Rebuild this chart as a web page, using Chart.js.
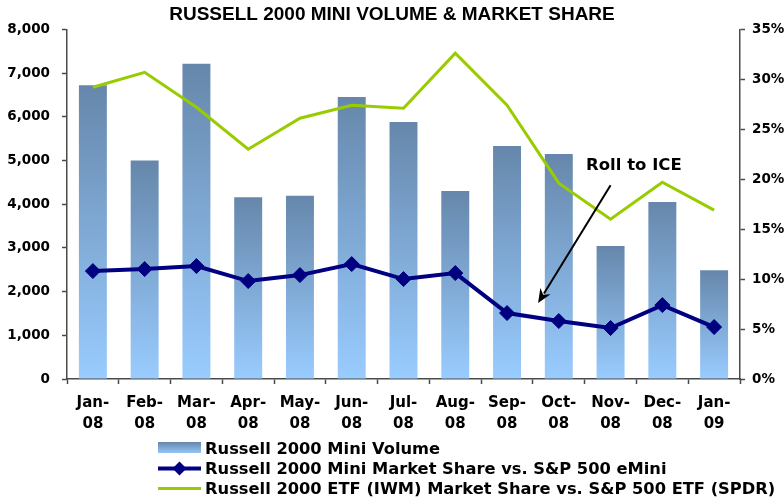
<!DOCTYPE html>
<html>
<head>
<meta charset="utf-8">
<script src="https://cdn.jsdelivr.net/npm/chart.js@4.4.1/dist/chart.umd.min.js"></script>
<style>
  html, body { margin: 0; padding: 0; background: #fff; }
  #wrap { width: 784px; height: 501px; position: relative; }
</style>
</head>
<body>
<div id="wrap"><canvas id="chart"></canvas></div>
<script>
// values
const months = ['Jan-08', 'Feb-08', 'Mar-08', 'Apr-08', 'May-08', 'Jun-08', 'Jul-08',
                'Aug-08', 'Sep-08', 'Oct-08', 'Nov-08', 'Dec-08', 'Jan-09'];
const miniVolume = [6720, 5000, 7210, 4160, 4190, 6450, 5880, 4300, 5330, 5150, 3040, 4050, 2490];
const miniShare = [10.8, 11.0, 11.3, 9.8, 10.4, 11.5, 10.0, 10.6, 6.6, 5.8, 5.1, 7.4, 5.2];
const etfShare = [29.2, 30.7, 27.2, 23.0, 26.1, 27.4, 27.1, 32.6, 27.4, 19.6, 16.0, 19.7, 16.9];

const volumeTicks = [0, 1000, 2000, 3000, 4000, 5000, 6000, 7000, 8000];
const shareTicks = [0, 5, 10, 15, 20, 25, 30, 35];

const seriesNames = [
    'Russell 2000 Mini Volume',
    'Russell 2000 Mini Market Share vs. S&P 500 eMini',
    'Russell 2000 ETF (IWM) Market Share vs. S&P 500 ETF (SPDR)'
];

// "Roll to ICE" callout, in category index / right-axis % units
const callout = { text: 'Roll to ICE', textAt: [10.45, 21.3], from: [10, 19.4], to: [8.6, 7.6] };

const NAVY = '#000080';
const GREEN = '#99cc00';
const BAR_TOP = '#6687ab';
const BAR_BOTTOM = '#99ccff';
const AXIS = '#4a4a4a';
const tickFont = { family: 'DejaVu Sans', weight: 'bold', size: 13.5 };

function barFill(ctx) {
    const chart = ctx.chart;
    if (!chart.chartArea || ctx.type !== 'data') return '#7fa8d4';
    const y = chart.scales.y;
    const top = y.getPixelForValue(ctx.raw);
    const bottom = y.getPixelForValue(0);
    const g = chart.ctx.createLinearGradient(0, top, 0, bottom);
    g.addColorStop(0, BAR_TOP);
    g.addColorStop(1, BAR_BOTTOM);
    return g;
}

const calloutPlugin = {
    id: 'callout',
    afterDatasetsDraw(chart) {
        const c = chart.ctx;
        const xs = chart.scales.x, ys = chart.scales.y2;
        const px = p => [xs.getPixelForValue(p[0]), ys.getPixelForValue(p[1])];
        const [x1, y1] = px(callout.from);
        const [x2, y2] = px(callout.to);
        const ang = Math.atan2(y2 - y1, x2 - x1);
        const headLen = 14, headW = 6;
        c.save();
        c.strokeStyle = '#000';
        c.fillStyle = '#000';
        c.lineWidth = 2;
        c.beginPath();
        c.moveTo(x1, y1);
        c.lineTo(x2 - Math.cos(ang) * headLen * 0.8, y2 - Math.sin(ang) * headLen * 0.8);
        c.stroke();
        c.beginPath();
        c.moveTo(x2, y2);
        c.lineTo(x2 - Math.cos(ang) * headLen - Math.sin(ang) * headW,
                 y2 - Math.sin(ang) * headLen + Math.cos(ang) * headW);
        c.lineTo(x2 - Math.cos(ang) * headLen * 0.7, y2 - Math.sin(ang) * headLen * 0.7);
        c.lineTo(x2 - Math.cos(ang) * headLen + Math.sin(ang) * headW,
                 y2 - Math.sin(ang) * headLen - Math.cos(ang) * headW);
        c.closePath();
        c.fill();
        const [tx, ty] = px(callout.textAt);
        c.font = 'bold 16.5px "DejaVu Sans"';
        c.textAlign = 'center';
        c.textBaseline = 'middle';
        c.fillText(callout.text, tx, ty);
        c.restore();
    }
};

// legend stacked on the left, one row per series
const legendPlugin = {
    id: 'stackLegend',
    afterDraw(chart) {
        const c = chart.ctx;
        const x0 = 158, sw = 43, textX = 205;
        const base = chart.height;
        const rows = [base - 53, base - 32.5, base - 12.5];
        c.save();
        // volume swatch
        let y = rows[0];
        const g = c.createLinearGradient(0, y - 6, 0, y + 6);
        g.addColorStop(0, BAR_TOP);
        g.addColorStop(1, BAR_BOTTOM);
        c.fillStyle = g;
        c.fillRect(x0, y - 6, sw, 11);
        // mini share line + diamond
        y = rows[1];
        c.strokeStyle = NAVY;
        c.lineWidth = 4;
        c.beginPath();
        c.moveTo(x0, y);
        c.lineTo(x0 + sw, y);
        c.stroke();
        c.fillStyle = NAVY;
        c.beginPath();
        const cx = x0 + sw / 2, r = 7;
        c.moveTo(cx, y - r);
        c.lineTo(cx + r, y);
        c.lineTo(cx, y + r);
        c.lineTo(cx - r, y);
        c.closePath();
        c.fill();
        // etf share line
        y = rows[2];
        c.strokeStyle = GREEN;
        c.lineWidth = 3;
        c.beginPath();
        c.moveTo(x0, y);
        c.lineTo(x0 + sw, y);
        c.stroke();
        // texts
        c.fillStyle = '#000';
        c.font = 'bold 16.3px "DejaVu Sans"';
        c.textAlign = 'left';
        c.textBaseline = 'alphabetic';
        seriesNames.forEach((name, i) => c.fillText(name, textX, rows[i] + 5.5));
        c.restore();
    }
};

const chart = new Chart(document.getElementById('chart'), {
    data: {
        labels: months,
        datasets: [
            {
                type: 'line',
                label: seriesNames[1],
                data: miniShare,
                yAxisID: 'y2',
                borderColor: NAVY,
                borderWidth: 4,
                pointStyle: 'rectRot',
                pointRadius: 7.5,
                pointBackgroundColor: NAVY,
                pointBorderColor: NAVY,
                pointBorderWidth: 1,
                tension: 0,
                order: 1
            },
            {
                type: 'line',
                label: seriesNames[2],
                data: etfShare,
                yAxisID: 'y2',
                borderColor: GREEN,
                borderWidth: 3,
                pointRadius: 0,
                tension: 0,
                order: 2
            },
            {
                type: 'bar',
                label: seriesNames[0],
                data: miniVolume,
                yAxisID: 'y',
                backgroundColor: barFill,
                borderWidth: 0,
                categoryPercentage: 1,
                barPercentage: 0.54,
                order: 3
            }
        ]
    },
    options: {
        responsive: true,
        maintainAspectRatio: false,
        animation: false,
        layout: { padding: { bottom: 67 } },
        plugins: {
            legend: { display: false },
            tooltip: { enabled: false },
            title: {
                display: true,
                text: 'RUSSELL 2000 MINI VOLUME & MARKET SHARE',
                color: '#000',
                font: { family: 'Liberation Sans', weight: 'bold', size: 19, lineHeight: 1.2 },
                padding: { top: 3.5, bottom: 3 }
            }
        },
        scales: {
            x: {
                offset: true,
                grid: { offset: true, drawOnChartArea: false, tickLength: 5, tickColor: AXIS, tickWidth: 1.5 },
                border: { color: AXIS, width: 1.5 },
                ticks: {
                    color: '#000',
                    font: { family: 'DejaVu Sans', weight: 'bold', size: 15, lineHeight: 1.4 },
                    padding: 9,
                    maxRotation: 0,
                    autoSkip: false,
                    callback: function (v) {
                        const s = this.getLabelForValue(v);
                        return [s.slice(0, 4), s.slice(4)];
                    }
                },
                afterFit: s => { s.height = 55; }
            },
            y: {
                position: 'left',
                min: volumeTicks[0],
                max: volumeTicks[volumeTicks.length - 1],
                afterBuildTicks: s => { s.ticks = volumeTicks.map(v => ({ value: v })); },
                grid: { drawOnChartArea: false, tickLength: 5, tickColor: AXIS, tickWidth: 1.5 },
                border: { color: AXIS, width: 1.5 },
                ticks: {
                    color: '#000',
                    font: tickFont,
                    padding: 12,
                    callback: v => v.toLocaleString('en-US')
                },
                afterFit: s => { s.width = 67; }
            },
            y2: {
                position: 'right',
                min: shareTicks[0],
                max: shareTicks[shareTicks.length - 1],
                afterBuildTicks: s => { s.ticks = shareTicks.map(v => ({ value: v })); },
                grid: { drawOnChartArea: false, tickLength: 5, tickColor: AXIS, tickWidth: 1.5 },
                border: { color: AXIS, width: 1.5 },
                ticks: {
                    color: '#000',
                    font: tickFont,
                    padding: 7,
                    callback: v => v + '%'
                },
                afterFit: s => { s.width = 44; }
            }
        }
    },
    plugins: [calloutPlugin, legendPlugin]
});
</script>
</body>
</html>
